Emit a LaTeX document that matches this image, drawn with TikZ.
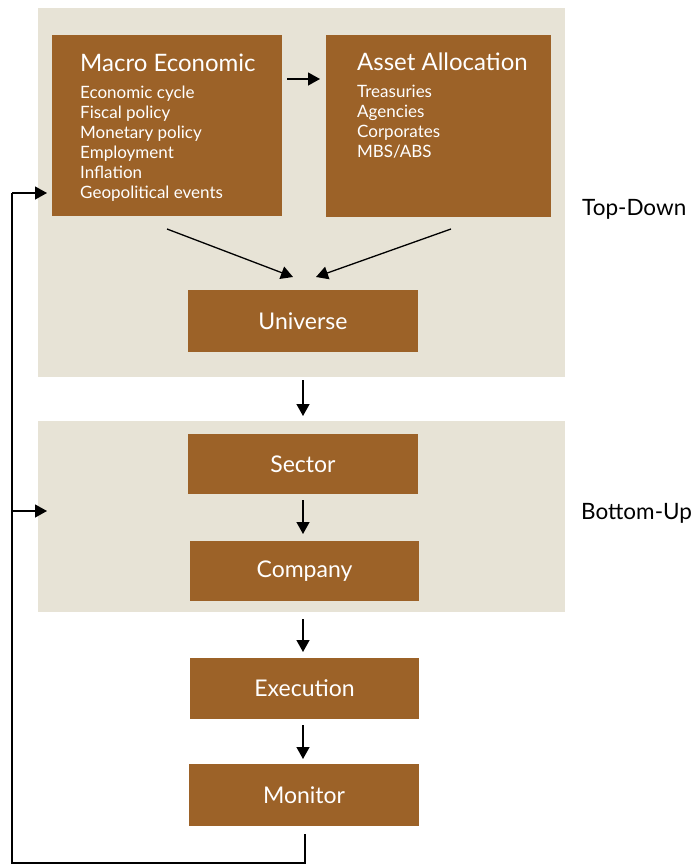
\documentclass[tikz,border=0pt]{standalone}
\usepackage{fontspec}
\setmainfont{Lato}
\usetikzlibrary{arrows.meta}
\definecolor{boxbrown}{RGB}{156,98,40}
\definecolor{bgbeige}{RGB}{231,227,214}
\begin{document}
\begin{tikzpicture}[x=1pt,y=-1pt,
  panel/.style={fill=bgbeige,draw=none},
  bbox/.style={fill=boxbrown,draw=none,inner sep=0pt,text=white},
  ttl/.style={anchor=base west,inner sep=0pt,text=white,font=\fontsize{24}{28}\selectfont},
  itm/.style={anchor=base west,inner sep=0pt,text=white,font=\fontsize{17}{20}\selectfont},
  lbl/.style={text=white,font=\fontsize{23}{26}\selectfont},
  side/.style={anchor=base west,inner sep=0pt,font=\fontsize{22.5}{26}\selectfont},
  arr/.style={line width=1.3pt,-{Triangle[length=12pt,width=13pt]}},
  ln/.style={line width=1.3pt}]
\useasboundingbox (0,0) rectangle (699,865);
\fill[white] (0,0) rectangle (699,865);
% panels
\fill[panel] (38,8) rectangle (565,377);
\fill[panel] (38,421) rectangle (565,612);
% boxes
\node[bbox,minimum width=230pt,minimum height=181pt] (macro) at (167,125.5) {};
\node[bbox,minimum width=225pt,minimum height=182pt] (asset) at (438.5,126) {};
\node[bbox,minimum width=230pt,minimum height=62pt,lbl] (univ) at (303,321) {Universe};
\node[bbox,minimum width=230pt,minimum height=60pt,lbl] (sector) at (303,464) {Sector};
\node[bbox,minimum width=229pt,minimum height=60pt,lbl] (company) at (304.5,571) {Company};
\node[bbox,minimum width=229pt,minimum height=61pt,lbl] (exec) at (304.5,688.5) {Execution};
\node[bbox,minimum width=230pt,minimum height=62pt,lbl] (monitor) at (304,795) {Monitor};
% texts
\node[ttl] (macrot) at (80,71) {Macro Economic};
\node[itm] at (80,98) {Economic cycle};
\node[itm] at (80,118) {Fiscal policy};
\node[itm] at (80,138) {Monetary policy};
\node[itm] at (80,158) {Employment};
\node[itm] at (80,178) {Inflation};
\node[itm] at (80,198) {Geopolitical events};
\node[ttl] (assett) at (357,70) {Asset Allocation};
\node[itm] at (357,97) {Treasuries};
\node[itm] at (357,117) {Agencies};
\node[itm] at (357,137) {Corporates};
\node[itm] at (357,157) {MBS/ABS};
\node[side] (td) at (582,215) {Top-Down};
\node[side] (bu) at (581,519) {Bottom-Up};
% coordinates
\coordinate (m2a) at (287,79);
\coordinate (a2m) at (320,79);
\coordinate (dl1) at (167,229);
\coordinate (dl2) at (293,277);
\coordinate (dr1) at (451,229);
\coordinate (dr2) at (316,277);
\coordinate (u1) at (303,380);
\coordinate (u2) at (303,416);
\coordinate (s1) at (303,500);
\coordinate (s2) at (303,534);
\coordinate (c1) at (303,619);
\coordinate (c2) at (303,652);
\coordinate (e1) at (303,725);
\coordinate (e2) at (303,759);
\coordinate (fb0) at (305,834);
\coordinate (fb1) at (305,863);
\coordinate (fb2) at (12,863);
\coordinate (fb3) at (12,193);
\coordinate (fbt) at (47,193);
\coordinate (fb4) at (12,511);
\coordinate (fbb) at (47,511);
% arrows
\draw[arr] (m2a) -- (a2m);
\draw[arr] (dl1) -- (dl2);
\draw[arr] (dr1) -- (dr2);
\draw[arr] (u1) -- (u2);
\draw[arr] (s1) -- (s2);
\draw[arr] (c1) -- (c2);
\draw[arr] (e1) -- (e2);
\draw[ln] (fb0) -- (fb1) -- (fb2) -- (fb3);
\draw[arr] (fb3) -- (fbt);
\draw[arr] (fb4) -- (fbb);
\end{tikzpicture}
\end{document}
